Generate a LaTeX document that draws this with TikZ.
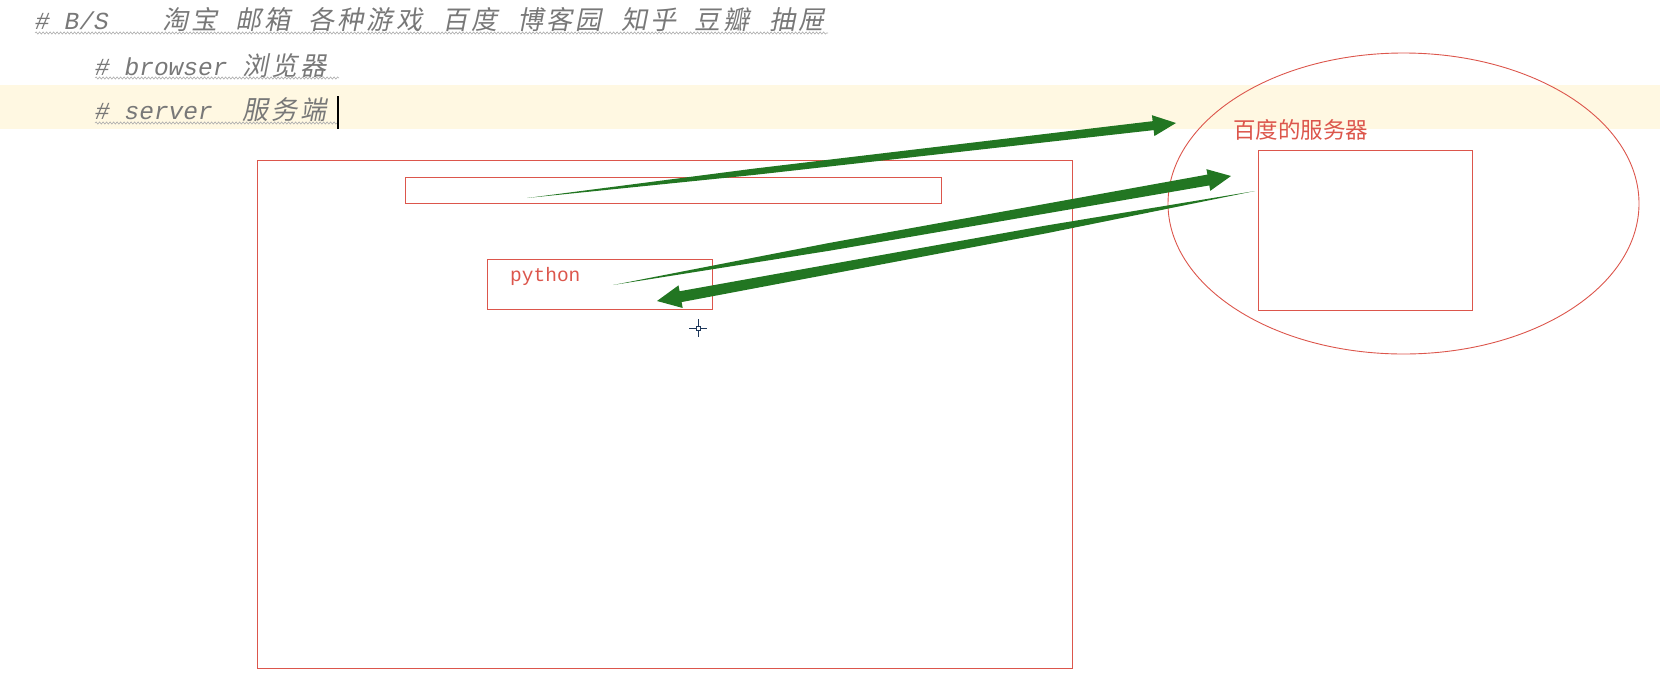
\documentclass[tikz,border=0pt]{standalone}
\usepackage{fontspec}
\usetikzlibrary{calc,decorations.pathmorphing,shapes.geometric}
\newfontfamily\monof{Liberation Mono}
\newfontfamily\cjkit[FakeSlant=0.2,LetterSpace=13]{Noto Sans CJK SC}
\newfontfamily\cjkup{Noto Sans CJK SC}
\newcommand\cj[1]{{\cjkit\upshape\fontsize{26}{28}\selectfont #1}}
\definecolor{boxred}{RGB}{220,86,76}
\definecolor{arrowgreen}{RGB}{34,118,34}
\definecolor{codegray}{RGB}{120,120,120}
\definecolor{hlyellow}{RGB}{255,248,226}
\definecolor{cursorblue}{RGB}{30,55,90}
% #1 tail, #2 tip, #3 shaft half width, #4 head half width, #5 head length
\newcommand\taperarrow[5]{%
  \fill[arrowgreen] (#1)
    -- ($(#1)!0.35!(#2)!#3*0.7!90:(#2)$)
    -- ($(#2)!#5!(#1)!#3!90:(#2)$) -- ($(#2)!#5!(#1)!#4!90:(#2)$) -- (#2)
    -- ($(#2)!#5!(#1)!#4!-90:(#2)$) -- ($(#2)!#5!(#1)!#3!-90:(#2)$)
    -- ($(#1)!0.35!(#2)!#3*0.7!-90:(#2)$) -- cycle;}
\begin{document}
\begin{tikzpicture}[x=1pt,y=-1pt,
  redbox/.style={draw=boxred, line width=0.9pt, inner sep=0pt, rectangle},
  codeline/.style={anchor=base west, inner sep=0pt, text=codegray, font=\monof\itshape\fontsize{24.5}{28}\selectfont},
  cjword/.style={anchor=base west, inner sep=0pt, text=codegray},
  squiggle/.style={draw=codegray!60, line width=0.6pt, decorate, decoration={snake, amplitude=1.1pt, segment length=3.5pt}},
  redlabel/.style={inner sep=0pt, text=boxred}]
\useasboundingbox (0,0) rectangle (1660,681);
% highlighted current line
\fill[hlyellow] (0,85) rectangle (1660,129);
% code line 1
\node[codeline] (l1) at (35,29.6) {\# B/S};
\node[cjword] (w1) at (162,29.6) {\cj{淘宝}};
\node[cjword] (w2) at (235,29.6) {\cj{邮箱}};
\node[cjword] (w3) at (308,29.6) {\cj{各种游戏}};
\node[cjword] (w4) at (442,29.6) {\cj{百度}};
\node[cjword] (w5) at (517,29.6) {\cj{博客园}};
\node[cjword] (w6) at (621,29.6) {\cj{知乎}};
\node[cjword] (w7) at (694,29.6) {\cj{豆瓣}};
\node[cjword] (w8) at (769,29.6) {\cj{抽屉}};
% code lines 2 and 3
\node[codeline] (l2) at (95,75) {\# browser \cj{浏览器}};
\node[codeline] (l3) at (95,119.5) {\# server\ \ \cj{服务端}};
\draw[squiggle] (35,33) -- (828,33);
\draw[squiggle] (95,78) -- (339,78);
\draw[squiggle] (95,123) -- (337,123);
% text cursor
\draw[line width=1.8pt] (338,96) -- (338,129);
% browser window
\node[redbox, minimum width=815pt, minimum height=508pt] (browser) at (664.5,414) {};
\node[redbox, minimum width=536pt, minimum height=26pt] (urlbar) at (673,190) {};
\node[redbox, minimum width=225pt, minimum height=50pt] (pybox) at (599.5,284) {};
\node[redlabel, anchor=west, font=\monof\fontsize{19.5}{22}\selectfont] (py) at (510,276) {python};
% server
\node[draw=boxred, line width=0.9pt, ellipse, minimum width=471pt, minimum height=301pt, inner sep=0pt] (server) at (1403.5,203.5) {};
\node[redbox, minimum width=214pt, minimum height=160pt] (srvbox) at (1365,230) {};
\node[redlabel, anchor=west, font=\cjkup\fontsize{22.5}{26}\selectfont] (srvlabel) at (1233,130) {百度的服务器};
% arrows
\coordinate (a1s) at (527,198); \coordinate (a1e) at (1176,123);
\coordinate (a2s) at (613,285); \coordinate (a2e) at (1231,176);
\coordinate (a3s) at (1255,191); \coordinate (a3e) at (657,301);
\taperarrow{a1s}{a1e}{4.5pt}{10.5pt}{23pt}
\taperarrow{a2s}{a2e}{5.5pt}{11pt}{23pt}
\taperarrow{a3s}{a3e}{5.5pt}{11.5pt}{24pt}
% mouse crosshair
\draw[cursorblue, line width=1pt] (698,319) -- (698,337) (689,328) -- (707,328);
\filldraw[fill=white, draw=cursorblue, line width=0.8pt] (696,326) rectangle (700,330);
\end{tikzpicture}
\end{document}
